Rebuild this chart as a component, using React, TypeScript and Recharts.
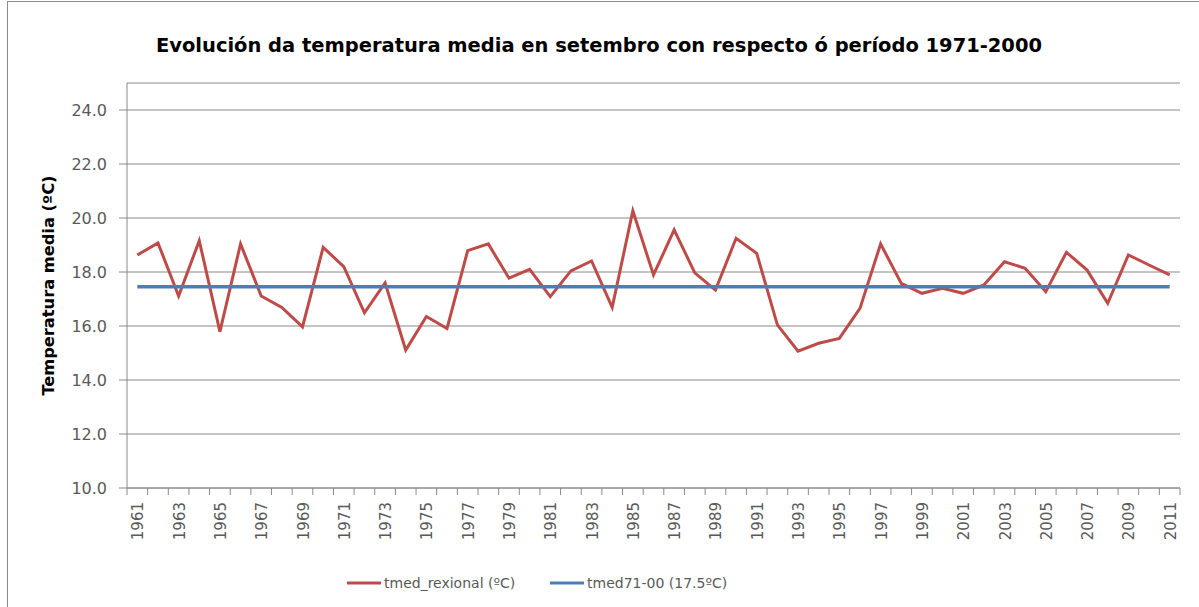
import React from 'react';
import { LineChart, Line, XAxis, YAxis, CartesianGrid } from 'recharts';

const years: string[] = [
  '1961', '1962', '1963', '1964', '1965', '1966', '1967', '1968', '1969', '1970',
  '1971', '1972', '1973', '1974', '1975', '1976', '1977', '1978', '1979', '1980',
  '1981', '1982', '1983', '1984', '1985', '1986', '1987', '1988', '1989', '1990',
  '1991', '1992', '1993', '1994', '1995', '1996', '1997', '1998', '1999', '2000',
  '2001', '2002', '2003', '2004', '2005', '2006', '2007', '2008', '2009', '2010',
  '2011',
];

const tmedRexional: number[] = [
  18.63, 19.08, 17.11, 19.16, 15.79, 19.04, 17.11, 16.69, 15.97, 18.91,
  18.2, 16.49, 17.6, 15.11, 16.35, 15.91, 18.79, 19.04, 17.77, 18.1,
  17.09, 18.04, 18.41, 16.69, 20.27, 17.89, 19.56, 17.97, 17.33, 19.25,
  18.69, 16.04, 15.07, 15.36, 15.54, 16.65, 19.04, 17.58, 17.21, 17.4,
  17.21, 17.52, 18.38, 18.14, 17.27, 18.73, 18.07, 16.84, 18.63, 18.26,
  17.89,
];

const tmedBaseline = 17.45;

const yTicks: number[] = [10, 12, 14, 16, 18, 20, 22, 24];

const TITLE = 'Evolución da temperatura media en setembro con respecto ó período 1971-2000';
const Y_LABEL = 'Temperatura media (ºC)';
const SERIES_RED = 'tmed_rexional (ºC)';
const SERIES_BLUE = 'tmed71-00 (17.5ºC)';

const RED = '#BE4B48';
const BLUE = '#4A7EBB';
const GRID = '#8a8a8a';
const TEXT = '#595959';

const data = years.map((y, i) => ({
  year: y,
  rex: tmedRexional[i],
  base: tmedBaseline,
}));

const CHART_W = 1199;
const CHART_H = 607;
const MARGIN = { top: 83, right: 19, left: 0, bottom: 0 };
const Y_W = 127;
const X_H = 119;
const PLOT_W = CHART_W - MARGIN.left - MARGIN.right - Y_W;
const BAND = PLOT_W / years.length;

const XTick = (props: any) => {
  const { x, y, payload, index } = props;
  const showLabel = index % 2 === 0;
  return (
    <g>
      <line x1={x - BAND / 2} x2={x - BAND / 2} y1={y} y2={y + 7} stroke={GRID} strokeWidth={1} />
      {index === years.length - 1 && (
        <line x1={x + BAND / 2} x2={x + BAND / 2} y1={y} y2={y + 7} stroke={GRID} strokeWidth={1} />
      )}
      {showLabel && (
        <text
          transform={`translate(${x + 6},${y + 14}) rotate(-90)`}
          textAnchor="end"
          fontSize={15}
          fontFamily="DejaVu Sans"
          fill={TEXT}
        >
          {payload.value}
        </text>
      )}
    </g>
  );
};

const YLabel = (props: any) => {
  const vb = props.viewBox || { x: 0, y: 0, width: 0, height: 0 };
  const cx = 48;
  const cy = vb.y + vb.height / 2;
  return (
    <text
      transform={`translate(${cx},${cy}) rotate(-90)`}
      textAnchor="middle"
      dominantBaseline="central"
      fontSize={16}
      fontWeight="bold"
      fontFamily="'DejaVu Sans Condensed', 'Liberation Sans'"
      fill="#000"
      textLength={220}
      lengthAdjust="spacingAndGlyphs"
    >
      {Y_LABEL}
    </text>
  );
};

const LegendItem = ({ color, label, left }: { color: string; label: string; left: number }) => (
  <div style={{ position: 'absolute', left, top: 0, display: 'flex', alignItems: 'center', height: 20 }}>
    <svg width={34} height={6} style={{ display: 'block' }}>
      <line x1={0} x2={34} y1={3} y2={3} stroke={color} strokeWidth={3} />
    </svg>
    <span
      style={{
        marginLeft: 3,
        fontFamily: 'DejaVu Sans',
        fontSize: 14,
        color: TEXT,
        whiteSpace: 'nowrap',
        lineHeight: '20px',
      }}
    >
      {label}
    </span>
  </div>
);

export default function App() {
  return (
    <div style={{ position: 'absolute', left: 0, top: 0, width: CHART_W, height: CHART_H, background: '#fff' }}>
      <div
        style={{
          position: 'absolute',
          left: 7,
          top: 1,
          width: CHART_W - 7,
          height: CHART_H - 1,
          borderLeft: '1px solid #8c8c8c',
          borderTop: '1px solid #8c8c8c',
          boxSizing: 'border-box',
        }}
      />
      <svg width={CHART_W} height={70} style={{ position: 'absolute', left: 0, top: 0 }}>
        <text
          x={599}
          y={52}
          textAnchor="middle"
          fontSize={20}
          fontWeight="bold"
          fontFamily="'DejaVu Sans Condensed', 'Liberation Sans'"
          fill="#000"
          textLength={886}
          lengthAdjust="spacingAndGlyphs"
        >
          {TITLE}
        </text>
      </svg>
      <div style={{ position: 'absolute', left: 0, top: 0 }}>
        <LineChart width={CHART_W} height={CHART_H} data={data} margin={MARGIN}>
          <CartesianGrid vertical={false} stroke={GRID} strokeWidth={1} />
          <XAxis
            dataKey="year"
            interval={0}
            height={X_H}
            padding={{ left: BAND / 2, right: BAND / 2 }}
            tickLine={false}
            tickSize={0}
            tickMargin={0}
            axisLine={{ stroke: GRID, strokeWidth: 1 }}
            tick={<XTick />}
          />
          <YAxis
            width={Y_W}
            domain={[10, 25]}
            ticks={yTicks}
            allowDataOverflow
            tickSize={8}
            tickMargin={12}
            tickLine={{ stroke: GRID }}
            axisLine={{ stroke: GRID, strokeWidth: 1 }}
            tickFormatter={(v: number) => v.toFixed(1)}
            tick={{ fontSize: 16, fontFamily: 'DejaVu Sans', fill: TEXT }}
            label={<YLabel />}
          />
          <Line
            type="linear"
            dataKey="rex"
            name={SERIES_RED}
            stroke={RED}
            strokeWidth={3}
            dot={false}
            activeDot={false}
            isAnimationActive={false}
          />
          <Line
            type="linear"
            dataKey="base"
            name={SERIES_BLUE}
            stroke={BLUE}
            strokeWidth={3.5}
            dot={false}
            activeDot={false}
            isAnimationActive={false}
          />
        </LineChart>
      </div>
      <div style={{ position: 'absolute', left: 0, top: 573, width: CHART_W, height: 20 }}>
        <LegendItem color={RED} label={SERIES_RED} left={347} />
        <LegendItem color={BLUE} label={SERIES_BLUE} left={550} />
      </div>
    </div>
  );
}
